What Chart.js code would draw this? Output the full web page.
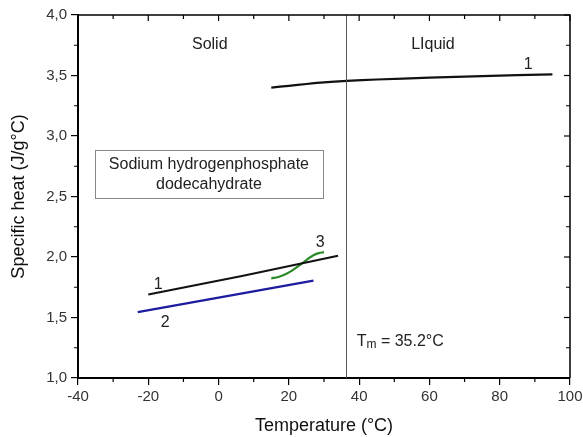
<!DOCTYPE html>
<html>
<head>
<meta charset="utf-8">
<script src="https://cdn.jsdelivr.net/npm/chart.js@4.4.0/dist/chart.umd.min.js"></script>
<style>
  html, body { margin: 0; padding: 0; background: #fff; }
  #wrap { width: 583px; height: 437px; }
</style>
</head>
<body>
<div id="wrap"><canvas id="cp"></canvas></div>
<script>
// curve 1 (liquid phase)
const liquidT  = [15, 20, 25, 30, 36.5, 45, 60, 75, 95];
const liquidCp = [3.40, 3.415, 3.43, 3.443, 3.455, 3.467, 3.482, 3.495, 3.51];
// curve 1 (solid phase)
const solid1T  = [-20, 7, 34];
const solid1Cp = [1.69, 1.845, 2.01];
// curve 2
const solid2T  = [-23, 2, 27];
const solid2Cp = [1.545, 1.675, 1.805];
// curve 3
const solid3T  = [15, 17, 19, 21, 23, 25, 27, 28.5, 30];
const solid3Cp = [1.824, 1.835, 1.857, 1.89, 1.93, 1.975, 2.015, 2.032, 2.04];
// melting line
const meltT = 36.4;
const cpRange = [1.0, 4.0];
const tRange = [-40, 100];

const pts = (xs, ys) => xs.map((x, i) => ({ x: x, y: ys[i] }));
const FONT = '"Liberation Sans", Arial, sans-serif';

// text labels placed in data units
const notes = [
  { t: 'Solid', x: -2.5, y: 3.752 },
  { t: 'LIquid', x: 61, y: 3.752 },
  { t: '1', x: 88.1, y: 3.587 },
  { t: '1', x: -17.2, y: 1.769 },
  { t: '2', x: -15.2, y: 1.455 },
  { t: '3', x: 28.9, y: 2.116 }
];

const decor = {
  id: 'decor',
  afterDraw(chart) {
    const ctx = chart.ctx;
    const a = chart.chartArea;
    const sx = chart.scales.x, sy = chart.scales.y;
    ctx.save();
    ctx.strokeStyle = '#000';
    // top and right frame
    ctx.lineWidth = 1.5;
    ctx.beginPath();
    ctx.moveTo(a.left, a.top); ctx.lineTo(a.right, a.top); ctx.lineTo(a.right, a.bottom);
    ctx.stroke();
    ctx.lineWidth = 1.2;
    // x ticks: minor outward on bottom, all inward on top
    for (let v = tRange[0]; v <= tRange[1]; v += 10) {
      const px = sx.getPixelForValue(v);
      const major = v % 20 === 0;
      ctx.beginPath();
      if (!major) { ctx.moveTo(px, a.bottom); ctx.lineTo(px, a.bottom + 4); }
      ctx.moveTo(px, a.top); ctx.lineTo(px, a.top + (major ? 6 : 4));
      ctx.stroke();
    }
    // y ticks: minor outward on left, all inward on right
    for (let k = 0; k <= 12; k++) {
      const v = cpRange[0] + k * 0.25;
      const py = sy.getPixelForValue(v);
      const major = k % 2 === 0;
      ctx.beginPath();
      if (!major) { ctx.moveTo(a.left, py); ctx.lineTo(a.left - 4, py); }
      ctx.moveTo(a.right, py); ctx.lineTo(a.right - (major ? 6 : 4), py);
      ctx.stroke();
    }
    // labels
    ctx.fillStyle = '#222';
    ctx.font = '16px ' + FONT;
    ctx.textAlign = 'center';
    ctx.textBaseline = 'middle';
    notes.forEach(n => ctx.fillText(n.t, sx.getPixelForValue(n.x), sy.getPixelForValue(n.y)));
    // compound box
    const bx0 = sx.getPixelForValue(-35.2), bx1 = sx.getPixelForValue(29.7);
    const by0 = sy.getPixelForValue(2.884), by1 = sy.getPixelForValue(2.488);
    ctx.strokeStyle = '#888';
    ctx.lineWidth = 1;
    ctx.strokeRect(Math.round(bx0) + 0.5, Math.round(by0) + 0.5, Math.round(bx1 - bx0), Math.round(by1 - by0));
    const cx = (bx0 + bx1) / 2;
    ctx.fillText('Sodium hydrogenphosphate', cx, sy.getPixelForValue(2.76));
    ctx.fillText('dodecahydrate', cx, sy.getPixelForValue(2.595));
    // Tm label
    let tx = sx.getPixelForValue(39.3);
    const ty = sy.getPixelForValue(1.30);
    ctx.textAlign = 'left';
    ctx.fillText('T', tx, ty);
    tx += ctx.measureText('T').width;
    ctx.font = '12px ' + FONT;
    ctx.fillText('m', tx, ty + 3);
    tx += ctx.measureText('m').width;
    ctx.font = '16px ' + FONT;
    ctx.fillText(' = 35.2\u00B0C', tx, ty);
    ctx.restore();
  }
};

const line = (data, color, extra) => Object.assign({
  data: data, borderColor: color, borderWidth: 2.2, showLine: true,
  pointRadius: 0, fill: false
}, extra || {});

new Chart(document.getElementById('cp'), {
  type: 'scatter',
  data: {
    datasets: [
      line(pts([meltT, meltT], cpRange), '#555', { borderWidth: 1 }),
      line(pts(liquidT, liquidCp), '#111', { tension: 0.3 }),
      line(pts(solid1T, solid1Cp), '#111'),
      line(pts(solid2T, solid2Cp), '#1c1ca0'),
      line(pts(solid3T, solid3Cp), '#2a8a2a', { tension: 0.4 })
    ]
  },
  options: {
    responsive: true,
    maintainAspectRatio: false,
    animation: false,
    layout: { padding: { top: 15, right: 13, left: 0, bottom: 0 } },
    plugins: { legend: { display: false }, tooltip: { enabled: false } },
    scales: {
      x: {
        type: 'linear', min: tRange[0], max: tRange[1],
        afterFit(s) { s.height = 59; s.paddingRight = 0; s.paddingLeft = 0; },
        ticks: { stepSize: 20, color: '#333', padding: 3, font: { family: FONT, size: 15 } },
        grid: { drawOnChartArea: false, drawTicks: true, tickLength: 7, color: '#000', lineWidth: 1.2 },
        border: { display: true, color: '#000', width: 2 },
        title: { display: true, text: 'Temperature (\u00B0C)', color: '#111', padding: { top: 2, bottom: 0 }, font: { family: FONT, size: 18 } }
      },
      y: {
        type: 'linear', min: cpRange[0], max: cpRange[1],
        afterFit(s) { s.width = 78; s.paddingTop = 0; s.paddingBottom = 0; },
        ticks: { stepSize: 0.5, color: '#333', padding: 4, font: { family: FONT, size: 15 },
          callback: v => v.toFixed(1).replace('.', ',') },
        grid: { drawOnChartArea: false, drawTicks: true, tickLength: 7, color: '#000', lineWidth: 1.2 },
        border: { display: true, color: '#000', width: 2 },
        title: { display: true, text: 'Specific heat (J/g\u00B0C)', color: '#111', padding: { top: 8, bottom: 0 }, font: { family: FONT, size: 18 } }
      }
    }
  },
  plugins: [decor]
});
</script>
</body>
</html>
